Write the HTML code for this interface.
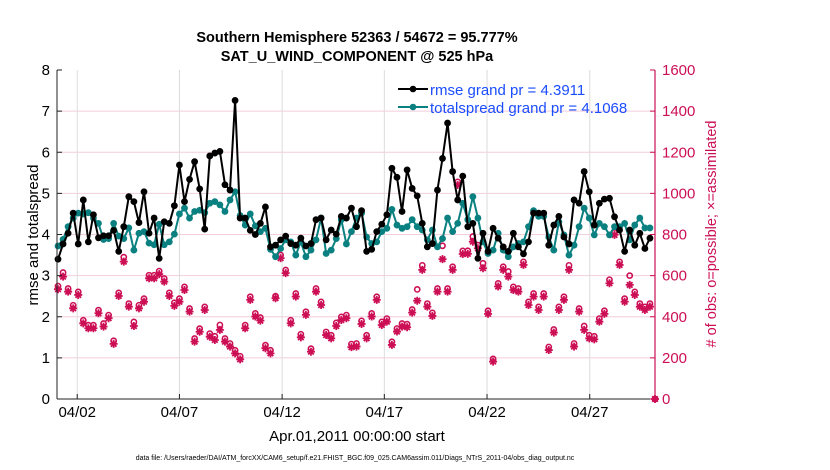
<!DOCTYPE html>
<html><head><meta charset="utf-8"><style>
body{margin:0;background:#fff;}
svg{display:block;font-family:"Liberation Sans",sans-serif;}
</style></head><body>
<svg id="chart" width="830" height="470" viewBox="0 0 830 470">
<g id="grid"></g>
<g id="obsg"></g>
<g id="spreadg"></g>
<g id="rmseg"></g>
<g id="axes"></g>
<text x="357" y="42" font-size="14.5" font-weight="bold" text-anchor="middle">Southern Hemisphere 52363 / 54672 = 95.777%</text>
<text x="357" y="61" font-size="14.5" font-weight="bold" text-anchor="middle">SAT_U_WIND_COMPONENT @ 525 hPa</text>
<text transform="translate(38,235) rotate(-90)" font-size="15" text-anchor="middle">rmse and totalspread</text>
<text transform="translate(716,234) rotate(-90)" font-size="14.5" text-anchor="middle" fill="#cc0f55"># of obs: o=possible; ×=assimilated</text>
<text x="357" y="441" font-size="15" text-anchor="middle">Apr.01,2011 00:00:00 start</text>
<text x="355" y="460" font-size="7" text-anchor="middle">data file: /Users/raeder/DAI/ATM_forcXX/CAM6_setup/f.e21.FHIST_BGC.f09_025.CAM6assim.011/Diags_NTrS_2011-04/obs_diag_output.nc</text>
<g>
<line x1="398" y1="89" x2="428" y2="89" stroke="#000" stroke-width="2"/><circle cx="413" cy="89" r="3.3" fill="#000"/>
<text x="430" y="95" font-size="15" fill="#1a4dff">rmse grand pr = 4.3911</text>
<line x1="398" y1="107" x2="428" y2="107" stroke="#0a8080" stroke-width="2"/><circle cx="413" cy="107" r="3.3" fill="#0a8080"/>
<text x="430" y="113" font-size="15" fill="#1a4dff">totalspread grand pr = 4.1068</text>
</g>
</svg>
<script>
const rmse=[3.40,3.77,4.03,4.52,3.77,4.84,3.82,4.48,3.92,3.97,3.97,4.10,3.59,4.19,4.92,4.80,4.29,5.04,4.03,4.40,3.42,4.31,4.27,4.70,5.69,4.80,5.34,5.77,5.11,4.13,5.91,5.98,6.02,5.21,5.08,7.26,4.40,4.40,4.10,4.00,4.27,4.67,
3.70,3.74,
3.87,3.96,3.78,3.74,3.91,3.72,3.78,4.36,4.40,3.87,4.11,4.01,4.44,4.40,4.64,4.19,4.58,3.59,3.64,4.07,4.25,4.48,5.61,5.39,4.56,5.57,5.12,4.94,4.27,3.70,3.78,5.08,5.85,
6.71,5.53,4.84,5.42,4.19,4.27,3.42,4.03,3.59,4.15,3.91,3.70,3.59,4.03,3.70,3.53,3.82,4.52,4.52,4.52,3.74,4.23,4.44,3.94,3.77,4.84,4.76,5.53,5.04,4.23,4.76,4.86,4.88,4.43,4.11,3.59,4.11,3.74,4.03,3.66,3.91,null];
const spread=[3.72,3.88,4.19,4.40,4.52,4.50,4.53,4.40,4.27,3.88,3.90,4.27,3.96,3.90,4.16,3.62,4.03,4.07,3.79,3.75,4.25,3.75,3.82,4.01,4.50,4.64,4.40,4.56,4.59,4.53,4.76,4.80,4.72,4.56,4.84,5.04,4.46,4.23,4.50,4.21,4.07,4.15,
3.64,3.46,
3.66,3.87,3.82,3.50,3.82,3.46,3.62,3.87,4.40,3.54,3.62,3.90,4.36,3.77,4.07,4.40,4.52,3.94,3.78,3.82,4.07,4.15,4.61,4.23,4.15,4.19,4.36,4.19,4.11,3.87,4.11,3.70,3.90,
4.40,4.07,4.27,4.76,4.36,4.92,4.40,3.82,3.54,3.62,4.03,3.62,3.46,3.70,3.78,3.82,4.19,4.58,4.44,4.44,3.94,3.62,4.31,3.99,3.50,3.74,4.19,4.64,4.40,3.99,4.27,4.19,3.99,4.19,4.19,4.27,3.87,4.23,4.40,4.16,4.16,null];
const assim=[534,595,522,441,506,368,344,344,417,352,393,268,501,668,449,355,441,473,587,587,607,571,501,453,473,530,425,279,327,433,303,287,336,279,255,222,193,344,482,401,381,
247,222,490,685,612,368,498,300,409,230,522,457,311,295,355,384,393,252,255,365,295,401,482,360,376,263,328,352,349,420,478,628,449,404,522,680,522,628,1041,
705,706,765,733,636,414,182,547,628,595,530,522,652,457,498,433,498,238,323,433,482,628,255,425,336,295,290,376,414,563,798,652,473,555,506,449,433,449,0];
const poss=[549,615,537,456,521,383,359,359,432,367,408,283,516,690,464,375,456,488,602,602,622,586,516,468,488,545,440,294,342,448,318,305,360,294,270,237,208,359,497,416,396,
262,237,500,700,627,383,513,315,424,245,537,472,326,310,370,399,408,267,270,380,310,416,497,375,391,278,343,367,364,435,533,650,464,419,537,745,537,643,1056,
720,721,790,748,660,429,195,562,643,620,545,537,667,472,513,448,513,253,338,448,497,650,270,440,355,310,305,391,429,580,810,667,488,600,521,464,448,464,0];
const xTickLabels=["04/02","04/07","04/12","04/17","04/22","04/27"];
const xTickIdx=[3.8,24,44.3,64.5,84.8,105.1];
const yLeftTicks=[0,1,2,3,4,5,6,7,8];
const yRightTicks=[0,200,400,600,800,1000,1200,1400,1600];

const NS="http://www.w3.org/2000/svg";
const L=57,R=655,T=70,B=399;
const xS=i=>58+i*(655-58)/(assim.length-1);
const yL=v=>B-(v/8)*(B-T);
const yR=v=>B-(v/1600)*(B-T);
function mk(tag,attrs,parent){const e=document.createElementNS(NS,tag);for(const k in attrs)e.setAttribute(k,attrs[k]);parent.appendChild(e);return e;}
const grid=document.getElementById('grid'),axes=document.getElementById('axes');
yRightTicks.forEach(v=>{if(v>0&&v<1600){const g=mk('line',{x1:L,x2:R,y1:yR(v),y2:yR(v),stroke:'#f2cedb','stroke-width':1},grid);}});
xTickIdx.forEach((t,k)=>{const x=xS(t);const g=mk('line',{x1:x,x2:x,y1:T,y2:B,stroke:'#dcdcdc','stroke-width':1},grid);
mk('line',{x1:x,x2:x,y1:B,y2:B-5,stroke:'#222'},axes);
const tx=mk('text',{x:x,y:417,'font-size':15,'text-anchor':'middle'},axes);tx.textContent=xTickLabels[k];
});
mk('line',{x1:L,x2:R,y1:B,y2:B,stroke:'#222'},axes);
mk('line',{x1:L,x2:L,y1:T,y2:B,stroke:'#222'},axes);
mk('line',{x1:R,x2:R,y1:T,y2:B,stroke:'#cc0f55','stroke-width':1.2},axes);
yLeftTicks.forEach(v=>{const y=yL(v);mk('line',{x1:L,x2:L+5,y1:y,y2:y,stroke:'#222'},axes);
const t=mk('text',{x:50,y:y+5,'font-size':15,'text-anchor':'end'},axes);t.textContent=v;
});
yRightTicks.forEach(v=>{const y=yR(v);mk('line',{x1:R-5,x2:R,y1:y,y2:y,stroke:'#cc0f55'},axes);
const t=mk('text',{x:662,y:y+5,'font-size':15,fill:'#cc0f55'},axes);t.textContent=v;
});
function series(arr,g,color){let d='';arr.forEach((v,i)=>{if(v==null)return;d+=(d?'L':'M')+xS(i).toFixed(1)+','+yL(v).toFixed(1);});
const p=mk('path',{d:d,fill:'none',stroke:color,'stroke-width':2,'stroke-linejoin':'round'},g);
arr.forEach((v,i)=>{if(v==null)return;const c=mk('circle',{cx:xS(i),cy:yL(v),r:3.4,fill:color},g);
});}
const og=document.getElementById('obsg');
poss.forEach((v,i)=>{const c=mk('circle',{cx:xS(i),cy:yR(v),r:2.6,fill:'none',stroke:'#cc0f55','stroke-width':1.6},og);
});
assim.forEach((v,i)=>{const x=xS(i),y=yR(v),s=4;
const g=mk('path',{d:`M${x-s},${y}H${x+s}M${x},${y-s}V${y+s}M${x-s*.7},${y-s*.7}L${x+s*.7},${y+s*.7}M${x-s*.7},${y+s*.7}L${x+s*.7},${y-s*.7}`,stroke:'#cc0f55','stroke-width':1.8},og);
});
series(spread,document.getElementById('spreadg'),'#0a8080');
series(rmse,document.getElementById('rmseg'),'#000');
</script>
</body></html>
